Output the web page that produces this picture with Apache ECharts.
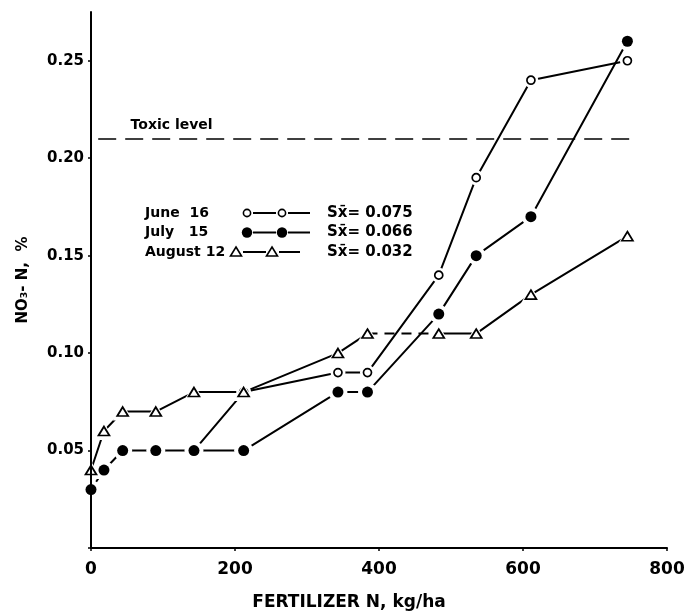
<!DOCTYPE html>
<html><head><meta charset="utf-8">
<script src="https://cdn.jsdelivr.net/npm/echarts@6/dist/echarts.min.js"></script>
<style>html,body{margin:0;padding:0;background:#fff}#c{width:687px;height:612px}</style>
</head><body><div id="c"></div>
<script>
// ---- data ----
const fertN   = [0, 18, 44, 90, 143, 212, 343, 384, 483, 535, 611, 745];
const june16  = [null, null, null, null, 0.05, 0.08, 0.09, 0.09, 0.14, 0.19, 0.24, 0.25];
const july15  = [0.03, 0.04, 0.05, 0.05, 0.05, 0.05, 0.08, 0.08, 0.12, 0.15, 0.17, 0.26];
const aug12   = [0.04, 0.06, 0.07, 0.07, 0.08, 0.08, 0.10, 0.11, 0.11, 0.11, 0.13, 0.16];
const seriesNames = ['June  16', 'July   15', 'August 12'];
const sxValues = ['0.075', '0.066', '0.032'];
const augDashedSegments = [7];          // segment index i joins point i and i+1
const toxicLevel = 0.21;
const toxicFrom = 10, toxicTo = 760, toxicLabelAt = 55;
const xTickStep = 200, yTickStep = 0.05;

// ---- build ----
const FONT = 'DejaVu Sans';
const chart = echarts.init(document.getElementById('c'));

function pts(ys){ const out=[]; ys.forEach((y,i)=>{ if(y!=null) out.push([fertN[i], y]); }); return out; }
function segs(ys, pick){
  const out=[];
  for(let i=0;i<ys.length-1;i++){
    if(ys[i]==null||ys[i+1]==null||!pick(i)) continue;
    out.push([fertN[i],ys[i]],[fertN[i+1],ys[i+1]],'-');
  }
  return out;
}
const lineBase = {type:'line', symbol:'none', showSymbol:false, clip:false, silent:true, z:2, connectNulls:false,
  lineStyle:{color:'#000', width:2}};
const symOpen = {symbol:'circle', symbolSize:8, itemStyle:{color:'#fff', borderColor:'#000', borderWidth:1.7, opacity:1}};
const symFill = {symbol:'circle', symbolSize:11, itemStyle:{color:'#000', opacity:1}};
const symTri  = {symbol:'triangle', symbolSize:[11,9], itemStyle:{color:'#fff', borderColor:'#000', borderWidth:1.7, opacity:1}};

function halo(data, symbol, size, z){
  return {type:'scatter', data, symbol, symbolSize:size, clip:false, silent:true, z,
    itemStyle:{color:'#fff', opacity:1}};
}
function marks(data, sym, z){
  return Object.assign({type:'scatter', data, clip:false, silent:true, z}, JSON.parse(JSON.stringify(sym)));
}

const series = [
  Object.assign({}, lineBase, {data: segs(june16, ()=>true),
    markLine:{silent:true, symbol:'none', z:1,
      lineStyle:{color:'#000', width:1.5, type:[18,9]},
      label:{show:false},
      data:[[{coord:[toxicFrom, toxicLevel]},{coord:[toxicTo, toxicLevel]}]]}}),
  Object.assign({}, lineBase, {data: segs(july15, ()=>true)}),
  Object.assign({}, lineBase, {data: segs(aug12, i=>!augDashedSegments.includes(i))}),
  Object.assign({}, lineBase, {data: segs(aug12, i=>augDashedSegments.includes(i)),
    lineStyle:{color:'#000', width:2, type:[10,7]}}),
  halo(pts(june16), 'circle', 15, 3),
  marks(pts(june16), symOpen, 4),
  halo(pts(aug12), 'triangle', [20,18], 5),
  halo(pts(july15), 'circle', 19, 5),
  marks(pts(aug12), symTri, 6),
  marks(pts(july15), symFill, 6)
];

const axisCommon = {
  axisLine:{show:true, onZero:false, lineStyle:{color:'#000', width:2}},
  axisTick:{show:true, length:3, lineStyle:{color:'#000', width:1.5}},
  splitLine:{show:false},
  nameLocation:'middle'
};

chart.setOption({
  animation:false,
  backgroundColor:'#fff',
  textStyle:{fontFamily:FONT},
  grid:{left:91, right:20, top:12, bottom:64, containLabel:false, outerBoundsMode:'none'},
  xAxis: Object.assign({}, axisCommon, {
    type:'value', min:0, max:800, interval:xTickStep,
    axisLabel:{color:'#000', fontSize:17, fontWeight:'bold', fontFamily:FONT, margin:13},
    name:'FERTILIZER N, kg/ha', nameGap:46,
    nameTextStyle:{color:'#000', fontSize:17, fontWeight:'bold', fontFamily:FONT, padding:[0,60,0,0]}
  }),
  yAxis: Object.assign({}, axisCommon, {
    type:'value', min:0, max:0.275, interval:yTickStep, z:10,
    axisLabel:{color:'#000', fontSize:15, fontWeight:'bold', fontFamily:FONT, margin:7,
      showMaxLabel:false,
      formatter: v => (v>0.001 && v<0.26) ? v.toFixed(2) : ''},
    name:'NO\u2083- N,  %', nameGap:60, nameRotate:90,
    nameTextStyle:{color:'#000', fontSize:15, fontWeight:'bold', fontFamily:FONT}
  }),
  series
});

// ---- legend and toxic label (graphic) ----
const g = [];
const p = chart.convertToPixel({gridIndex:0}, [toxicLabelAt, toxicLevel]);
g.push({type:'text', x:p[0], y:p[1]-6, style:{text:'Toxic level', fill:'#000', font:'bold 14px "DejaVu Sans"', textVerticalAlign:'bottom'}});

const rowY = [213, 232.5, 252];
const txtStyle = t => ({text:t, fill:'#000', font:'bold 14px "DejaVu Sans"', textVerticalAlign:'middle'});
seriesNames.forEach((nm, r) => {
  const y = rowY[r];
  g.push({type:'text', x:145, y, style:txtStyle(nm)});
  const sx = r===2 ? [236, 272] : [247, 282];
  const lineEnds = r===2 ? [[243,266],[279,300]] : [[253,276],[288,310]];
  lineEnds.forEach(([a,b]) => g.push({type:'line', shape:{x1:a,y1:y,x2:b,y2:y}, style:{stroke:'#000', lineWidth:2}}));
  sx.forEach(cx => {
    if (r===0) g.push({type:'circle', shape:{cx, cy:y, r:3.6}, style:{fill:'#fff', stroke:'#000', lineWidth:1.6}});
    else if (r===1) g.push({type:'circle', shape:{cx, cy:y, r:5.2}, style:{fill:'#000'}});
    else g.push({type:'polygon', shape:{points:[[cx, y-5],[cx+5.5, y+4],[cx-5.5, y+4]]}, style:{fill:'#fff', stroke:'#000', lineWidth:1.6}});
  });
  g.push({type:'text', x:327, y, style:{text:'Sx\u0304= ' + sxValues[r], fill:'#000', font:'bold 15px "DejaVu Sans"', textVerticalAlign:'middle'}});
});
chart.setOption({graphic:g});
</script>
</body></html>
